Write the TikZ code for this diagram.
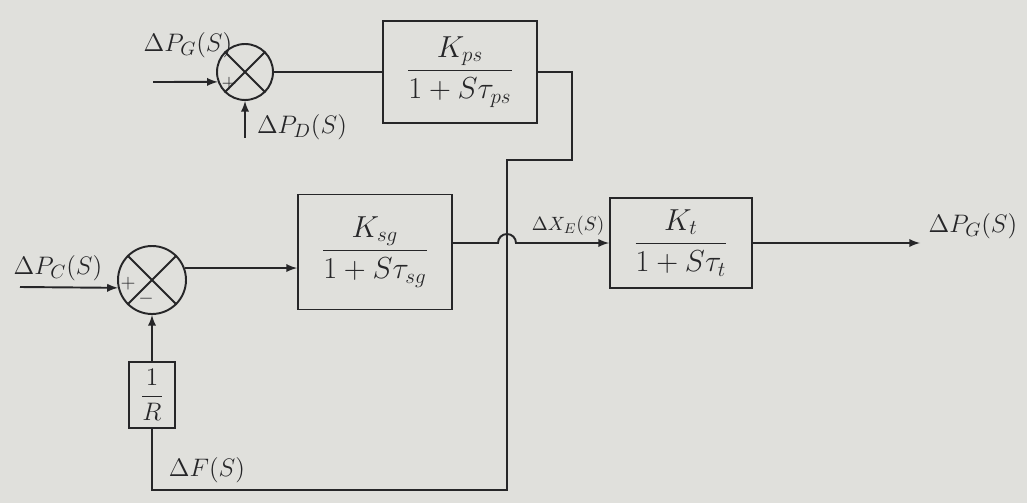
\documentclass[tikz,border=0pt]{standalone}
\usepackage{amsmath}
\definecolor{paper}{RGB}{224,224,220}
\definecolor{pencil}{RGB}{38,38,40}
\begin{document}
\begin{tikzpicture}[x=0.02cm, y=-0.02cm, >=latex, line width=1.1pt, draw=pencil,
    every node/.style={font=\fontsize{15}{18}\selectfont, text=pencil},
    block/.style={draw=pencil, line width=1.1pt, inner sep=2pt, font=\fontsize{18}{22}\selectfont},
    sumpt/.style={draw=pencil, circle, line width=1.1pt, minimum size=#1},
    sign/.style={font=\fontsize{11}{13}\selectfont, inner sep=0pt}]

    % 1. Paper and frame
    \fill[paper] (0,0) rectangle (1027,503);
    \useasboundingbox (0,0) rectangle (1027,503);

    % 2. Summing points with the cross
    \node[sumpt=1.12cm] (s1) at (245,72) {};
    \draw (s1.north west) -- (s1.south east) (s1.north east) -- (s1.south west);
    \node[sign] at (229,84) {$+$};

    \node[sumpt=1.36cm] (s2) at (152,280) {};
    \draw (s2.north west) -- (s2.south east) (s2.north east) -- (s2.south west);
    \node[sign] at (128,284) {$+$};
    \node[sign] at (146,299) {$-$};

    % 3. Transfer blocks
    \node[block, minimum width=3.08cm, minimum height=2.04cm] (kps) at (460,72)
        {$\dfrac{K_{ps}}{1+S\tau_{ps}}$};
    \node[block, minimum width=3.08cm, minimum height=2.3cm] (ksg) at (375,252)
        {$\dfrac{K_{sg}}{1+S\tau_{sg}}$};
    \node[block, minimum width=2.84cm, minimum height=1.8cm] (kt) at (681,243)
        {$\dfrac{K_t}{1+S\tau_t}$};
    \node[block, minimum width=0.92cm, minimum height=1.32cm, inner sep=1pt,
        font=\fontsize{15}{18}\selectfont] (rr) at (152,395) {$\dfrac{1}{R}$};

    % 4. Inputs of the upper junction
    \coordinate (inPg) at (153,82);
    \draw[->] (inPg) -- (s1.200);
    \node (lPg) at (188,45) {$\Delta P_G(S)$};

    \coordinate (inPd) at (245,138);
    \draw[->] (inPd) -- (s1.south);
    \node (lPd) at (302,127) {$\Delta P_D(S)$};

    \draw (s1.east) -- (kps.west);

    % 5. Lower junction and the main path
    \coordinate (inPc) at (20,287);
    \draw[->] (inPc) -- (s2.193);
    \node (lPc) at (58,268) {$\Delta P_C(S)$};

    \draw[->] (s2.20) -- (ksg.west |- s2.20);

    % 6. Feedback loop round the bottom
    \coordinate (c1) at (572,160);
    \coordinate (c2) at (507,160);
    \coordinate (c3) at (507,490);
    \draw (kps.east) -| (c1) -- (c2) -- (c3) -| (rr.south);
    \draw[->] (rr.north) -- (s2.south);
    \node (lF) at (207,470) {$\Delta F(S)$};

    % 7. Line hopping over the loop into the turbine
    \coordinate (hop) at (c2 |- kt.west);
    \draw[->] (ksg.east |- kt.west) -- ([xshift=-0.18cm]hop)
        arc[start angle=180, end angle=0, radius=0.18cm] -- (kt.west);
    \node[font=\fontsize{11}{13}\selectfont] (lXe) at (568,226) {$\Delta X_E(S)$};

    % 8. Output
    \coordinate (outPg) at (920,243);
    \draw[->] (kt.east) -- (outPg);
    \node (lPgo) at (973,226) {$\Delta P_G(S)$};

\end{tikzpicture}
\end{document}
